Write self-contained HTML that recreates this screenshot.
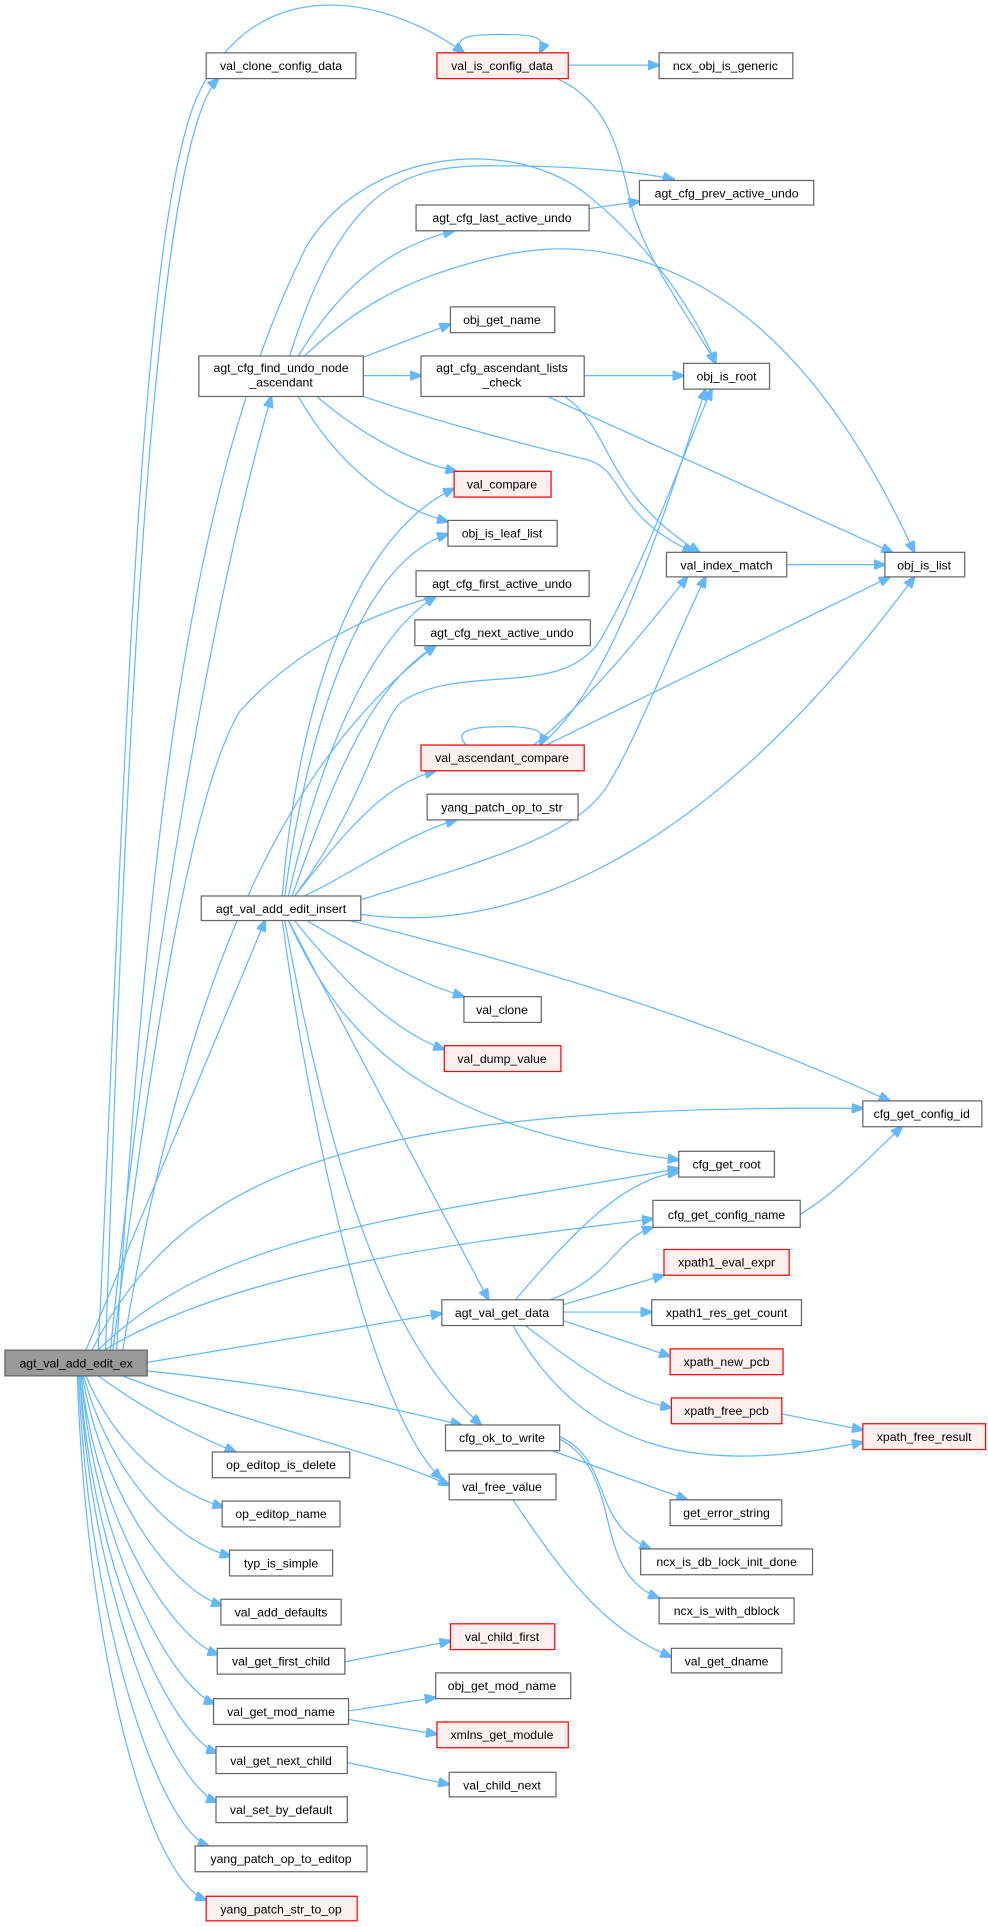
<!DOCTYPE html>
<html><head><meta charset="utf-8"><style>
html,body{margin:0;padding:0;background:#fff}
svg{display:block}
text{font-family:"Liberation Sans",Arial,sans-serif;font-size:10px;fill:#000}
.e{fill:none;stroke:#63b8ff;stroke-width:1}
.n{fill:#fff;stroke:#666;stroke-width:1}
.r{fill:#fff0f0;stroke:#ff0000;stroke-width:1}
.g{fill:#999;stroke:#666;stroke-width:1}
</style></head><body>
<svg width="988" height="1927" viewBox="0 0 805 1570" xmlns="http://www.w3.org/2000/svg">
<defs><marker id="a" markerUnits="userSpaceOnUse" markerWidth="10" markerHeight="8" refX="9" refY="4" orient="auto"><path d="M0,0 L10,4 L0,8 z" fill="#63b8ff" stroke="#63b8ff"/></marker></defs>
<g class="e" marker-end="url(#a)">
<path d="M80,1100 C100,700 110,200 160,80 C210,-30 320,0 378,43"/>
<path d="M86,1100 C100,700 120,120 178,64"/>
<path d="M90,1100 C120,800 170,500 221,323"/>
<path d="M95,1100 C120,700 150,400 250,200 C300,120 420,110 480,160 C530,200 570,260 583,296"/>
<path d="M92,1100 C130,800 160,640 195,580 C240,530 300,500 355,486"/>
<path d="M100,1100 C150,800 230,620 355,526"/>
<path d="M70,1100 L216,750"/>
<path d="M75,1100 C150,950 300,900 703,903"/>
<path d="M80,1100 C180,1000 350,990 553,952"/>
<path d="M85,1100 C200,1030 400,1010 532,993"/>
<path d="M120,1110 L360,1070"/>
<path d="M120,1117 C250,1130 330,1150 376,1161"/>
<path d="M100,1121 C200,1160 300,1180 366,1210"/>
<path d="M80,1121 C120,1150 160,1170 192,1183"/>
<path d="M70,1121 C95,1180 140,1215 182,1228"/>
<path d="M68,1121 C90,1200 140,1255 188,1268"/>
<path d="M67,1121 C85,1220 140,1295 181,1308"/>
<path d="M66,1121 C80,1240 140,1335 178,1348"/>
<path d="M66,1121 C78,1260 140,1375 175,1388"/>
<path d="M65,1121 C76,1280 140,1415 177,1428"/>
<path d="M65,1121 C74,1300 140,1455 177,1468"/>
<path d="M64,1121 C72,1320 130,1490 170,1504"/>
<path d="M63,1121 C70,1340 120,1530 168,1548"/>
<path d="M236,290 C280,150 330,135 400,135 C470,135 520,140 549,146"/>
<path d="M243,290 C280,230 320,200 370,188"/>
<path d="M248,290 C280,260 310,240 350,225 C420,200 470,195 530,215 C620,245 690,330 745,450"/>
<path d="M296,291 L367,264"/>
<path d="M296,306 L343,306"/>
<path d="M258,323 C290,350 330,375 372,384"/>
<path d="M243,323 C270,370 310,410 365,425"/>
<path d="M296,323 C370,348 440,365 480,375 C510,385 500,420 565,450"/>
<path d="M476,306 L557,306"/>
<path d="M446,323 L727,450"/>
<path d="M460,323 C500,350 490,400 570,450"/>
<path d="M376,43 C370,30 380,28 410,28 C440,28 445,32 440,43"/>
<path d="M463,53 L537,53"/>
<path d="M454,64 C500,85 505,130 515,170 C530,220 570,270 583,296"/>
<path d="M480,170 L521,164"/>
<path d="M641,460 L721,460"/>
<path d="M230,730 C240,600 280,440 370,398"/>
<path d="M232,730 C250,600 290,460 365,435"/>
<path d="M235,730 C260,620 300,520 355,486"/>
<path d="M238,730 C270,640 300,560 355,526"/>
<path d="M240,730 C300,650 310,580 330,570 C380,540 460,570 490,520 C530,450 560,360 580,317"/>
<path d="M294,733 C400,700 470,680 495,640 C520,600 550,520 575,470"/>
<path d="M294,745 C400,760 560,720 745,470"/>
<path d="M380,607 C370,597 380,592 410,592 C440,592 445,597 440,607"/>
<path d="M435,607 C480,570 520,520 560,470"/>
<path d="M440,607 C500,560 540,420 575,317"/>
<path d="M445,607 L725,470"/>
<path d="M240,730 C280,680 310,640 355,628"/>
<path d="M248,730 C290,710 330,680 372,668"/>
<path d="M250,750 C300,780 340,800 378,812"/>
<path d="M240,750 C280,800 320,840 362,855"/>
<path d="M285,750 C450,790 600,840 725,897"/>
<path d="M235,750 C280,850 350,920 553,945"/>
<path d="M235,750 L398,1059"/>
<path d="M232,750 C260,900 300,1080 392,1161"/>
<path d="M230,750 C250,900 300,1150 360,1205"/>
<path d="M420,1059 C470,1000 510,960 553,955"/>
<path d="M448,1059 C500,1040 500,1010 532,1000"/>
<path d="M459,1063 L541,1039"/>
<path d="M459,1069 L531,1069"/>
<path d="M459,1076 L546,1105"/>
<path d="M428,1080 C480,1120 510,1140 547,1147"/>
<path d="M418,1080 C480,1190 580,1200 703,1175"/>
<path d="M630,1000 C670,985 700,950 735,918"/>
<path d="M637,1152 L703,1165"/>
<path d="M450,1182 L560,1222"/>
<path d="M455,1170 C500,1190 480,1240 530,1262"/>
<path d="M455,1172 C510,1200 480,1280 537,1302"/>
<path d="M418,1222 C470,1300 500,1330 547,1350"/>
<path d="M281,1354 L367,1337"/>
<path d="M284,1394 L355,1383"/>
<path d="M284,1401 L356,1413"/>
<path d="M283,1436 L366,1454"/>
</g>
<g>
<rect class="n" x="168" y="43" width="122" height="21"/><text x="229" y="57" text-anchor="middle">val_clone_config_data</text>
<rect class="r" x="356" y="43" width="107" height="21"/><text x="409" y="57" text-anchor="middle">val_is_config_data</text>
<rect class="n" x="537" y="43" width="109" height="21"/><text x="591" y="57" text-anchor="middle">ncx_obj_is_generic</text>
<rect class="n" x="521" y="147" width="142" height="20"/><text x="592" y="161" text-anchor="middle">agt_cfg_prev_active_undo</text>
<rect class="n" x="339" y="167" width="141" height="21"/><text x="409" y="181" text-anchor="middle">agt_cfg_last_active_undo</text>
<rect class="n" x="367" y="250" width="85" height="21"/><text x="409" y="264" text-anchor="middle">obj_get_name</text>
<rect class="n" x="162" y="290" width="134" height="33"/><text x="229" y="303" text-anchor="middle">agt_cfg_find_undo_node</text><text x="229" y="315" text-anchor="middle">_ascendant</text>
<rect class="n" x="343" y="290" width="133" height="33"/><text x="409" y="303" text-anchor="middle">agt_cfg_ascendant_lists</text><text x="409" y="315" text-anchor="middle">_check</text>
<rect class="n" x="557" y="296" width="70" height="21"/><text x="592" y="310" text-anchor="middle">obj_is_root</text>
<rect class="r" x="370" y="384" width="79" height="21"/><text x="409" y="398" text-anchor="middle">val_compare</text>
<rect class="n" x="365" y="424" width="89" height="21"/><text x="409" y="438" text-anchor="middle">obj_is_leaf_list</text>
<rect class="n" x="543" y="450" width="98" height="20"/><text x="592" y="464" text-anchor="middle">val_index_match</text>
<rect class="n" x="721" y="450" width="65" height="20"/><text x="753" y="464" text-anchor="middle">obj_is_list</text>
<rect class="n" x="339" y="465" width="141" height="21"/><text x="409" y="479" text-anchor="middle">agt_cfg_first_active_undo</text>
<rect class="n" x="338" y="505" width="143" height="21"/><text x="409" y="519" text-anchor="middle">agt_cfg_next_active_undo</text>
<rect class="r" x="343" y="607" width="133" height="21"/><text x="409" y="621" text-anchor="middle">val_ascendant_compare</text>
<rect class="n" x="348" y="647" width="123" height="21"/><text x="409" y="661" text-anchor="middle">yang_patch_op_to_str</text>
<rect class="n" x="164" y="730" width="130" height="20"/><text x="229" y="744" text-anchor="middle">agt_val_add_edit_insert</text>
<rect class="n" x="378" y="812" width="63" height="21"/><text x="409" y="826" text-anchor="middle">val_clone</text>
<rect class="r" x="362" y="852" width="95" height="21"/><text x="409" y="866" text-anchor="middle">val_dump_value</text>
<rect class="n" x="703" y="897" width="97" height="21"/><text x="751" y="911" text-anchor="middle">cfg_get_config_id</text>
<rect class="n" x="553" y="938" width="78" height="21"/><text x="592" y="952" text-anchor="middle">cfg_get_root</text>
<rect class="n" x="532" y="978" width="120" height="22"/><text x="592" y="993" text-anchor="middle">cfg_get_config_name</text>
<rect class="r" x="541" y="1018" width="102" height="21"/><text x="592" y="1032" text-anchor="middle">xpath1_eval_expr</text>
<rect class="n" x="360" y="1059" width="99" height="21"/><text x="409" y="1073" text-anchor="middle">agt_val_get_data</text>
<rect class="n" x="531" y="1059" width="122" height="21"/><text x="592" y="1073" text-anchor="middle">xpath1_res_get_count</text>
<rect class="g" x="4" y="1100" width="116" height="21"/><text x="62" y="1114" text-anchor="middle">agt_val_add_edit_ex</text>
<rect class="r" x="546" y="1099" width="92" height="21"/><text x="592" y="1113" text-anchor="middle">xpath_new_pcb</text>
<rect class="r" x="547" y="1139" width="90" height="21"/><text x="592" y="1153" text-anchor="middle">xpath_free_pcb</text>
<rect class="r" x="703" y="1160" width="100" height="21"/><text x="753" y="1174" text-anchor="middle">xpath_free_result</text>
<rect class="n" x="363" y="1161" width="93" height="21"/><text x="409" y="1175" text-anchor="middle">cfg_ok_to_write</text>
<rect class="n" x="173" y="1183" width="112" height="21"/><text x="229" y="1197" text-anchor="middle">op_editop_is_delete</text>
<rect class="n" x="366" y="1201" width="87" height="21"/><text x="409" y="1215" text-anchor="middle">val_free_value</text>
<rect class="n" x="546" y="1222" width="91" height="21"/><text x="592" y="1236" text-anchor="middle">get_error_string</text>
<rect class="n" x="181" y="1223" width="96" height="21"/><text x="229" y="1237" text-anchor="middle">op_editop_name</text>
<rect class="n" x="522" y="1262" width="140" height="21"/><text x="592" y="1276" text-anchor="middle">ncx_is_db_lock_init_done</text>
<rect class="n" x="187" y="1263" width="84" height="21"/><text x="229" y="1277" text-anchor="middle">typ_is_simple</text>
<rect class="n" x="537" y="1302" width="110" height="21"/><text x="592" y="1316" text-anchor="middle">ncx_is_with_dblock</text>
<rect class="n" x="180" y="1303" width="98" height="21"/><text x="229" y="1317" text-anchor="middle">val_add_defaults</text>
<rect class="r" x="367" y="1323" width="85" height="21"/><text x="409" y="1337" text-anchor="middle">val_child_first</text>
<rect class="n" x="177" y="1343" width="104" height="21"/><text x="229" y="1357" text-anchor="middle">val_get_first_child</text>
<rect class="n" x="547" y="1343" width="90" height="20"/><text x="592" y="1357" text-anchor="middle">val_get_dname</text>
<rect class="n" x="355" y="1363" width="110" height="21"/><text x="409" y="1377" text-anchor="middle">obj_get_mod_name</text>
<rect class="n" x="174" y="1384" width="110" height="21"/><text x="229" y="1398" text-anchor="middle">val_get_mod_name</text>
<rect class="r" x="356" y="1403" width="107" height="21"/><text x="409" y="1417" text-anchor="middle">xmlns_get_module</text>
<rect class="n" x="176" y="1423" width="107" height="22"/><text x="229" y="1438" text-anchor="middle">val_get_next_child</text>
<rect class="n" x="366" y="1444" width="87" height="20"/><text x="409" y="1458" text-anchor="middle">val_child_next</text>
<rect class="n" x="176" y="1464" width="107" height="21"/><text x="229" y="1478" text-anchor="middle">val_set_by_default</text>
<rect class="n" x="159" y="1504" width="140" height="21"/><text x="229" y="1518" text-anchor="middle">yang_patch_op_to_editop</text>
<rect class="r" x="168" y="1545" width="123" height="20"/><text x="229" y="1559" text-anchor="middle">yang_patch_str_to_op</text>
</g>
</svg>
</body></html>
